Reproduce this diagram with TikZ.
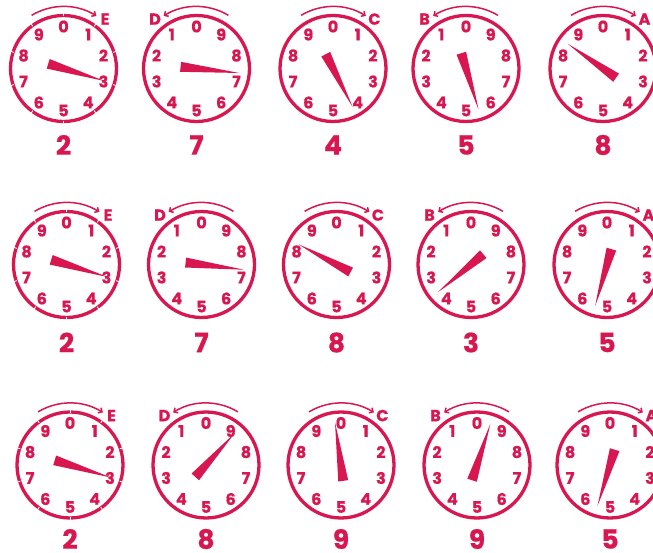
\documentclass[tikz,border=0pt]{standalone}
\usepackage{fontspec}
\setmainfont{Poppins}[BoldFeatures={FakeBold=0.7}]
\usetikzlibrary{arrows.meta,calc}
\definecolor{dialred}{HTML}{D8164F}
\begin{document}
\begin{tikzpicture}[x=1pt,y=1pt,
  ring/.style={draw=dialred,line width=3.3pt},
  digit/.style={text=dialred,font=\fontsize{16}{16}\selectfont\bfseries,inner sep=0pt},
  letter/.style={digit},
  reading/.style={text=dialred,font=\fontsize{26.5}{26.5}\selectfont\bfseries,inner sep=0pt},
  turn/.style={draw=dialred,line width=1.5pt,-{Straight Barb[length=3pt,width=6pt]}},
  hand/.style={fill=dialred},
  notch/.style={draw=white,line width=0.9pt}]
\useasboundingbox (0,0) rectangle (653,552);
\foreach \n/\cx/\cy/\ly/\s/\L/\ang/\val/\t in {
  1/63.5/483.5/407/1/E/-17/2/1,
  2/196.5/483.5/407/-1/D/-6/7/0,
  3/333/483.5/407/1/C/-63/4/0,
  4/466/483.5/407/-1/B/-73/5/0,
  5/603/483.5/407/1/A/145/8/0,
  6/66.5/287.5/209.5/1/E/-17/2/1,
  7/201.5/287.5/209.5/-1/D/-7/7/0,
  8/336.5/287.5/209.5/1/C/152/8/0,
  9/471/287.5/209.5/-1/B/220/3/0,
  10/607/287.5/209.5/1/A/-106/5/0,
  11/70/87/13/1/E/-17/2/1,
  12/206/87/13/-1/D/48/8/0,
  13/341/87/13/1/C/98/9/0,
  14/477/87/13/-1/B/72/9/0,
  15/610/87/13/1/A/-107/5/0}{
  \coordinate (c\n) at (\cx,\cy);
  \draw[ring] (c\n) circle[radius=53];
  \ifnum\t=1
    \foreach \k in {0,...,9}{
      \draw[notch] ($(c\n)+({90-36*\k}:52.2)$) -- ($(c\n)+({90-36*\k}:55)$);
    }
  \fi
  \foreach \k in {0,...,9}{
    \node[digit] (g\n-\k) at ($(c\n)+({90-(\s)*36*\k}:42)$) {\k};
  }
  \draw[turn] ($(c\n)+({90+(\s)*31}:62)$) arc[start angle={90+(\s)*31}, end angle={90-(\s)*32}, radius=62];
  \node[letter] (l\n) at ($(c\n)+({90-(\s)*40}:64.5)$) {\L};
  \fill[hand] ($(c\n)+(\ang:43)$) -- ($(c\n)+({\ang+180}:16)+({\ang+90}:5)$) -- ($(c\n)+({\ang+180}:16)+({\ang-90}:5)$) -- cycle;
  \node[reading] (r\n) at (\cx,\ly) {\val};
}
\end{tikzpicture}
\end{document}
